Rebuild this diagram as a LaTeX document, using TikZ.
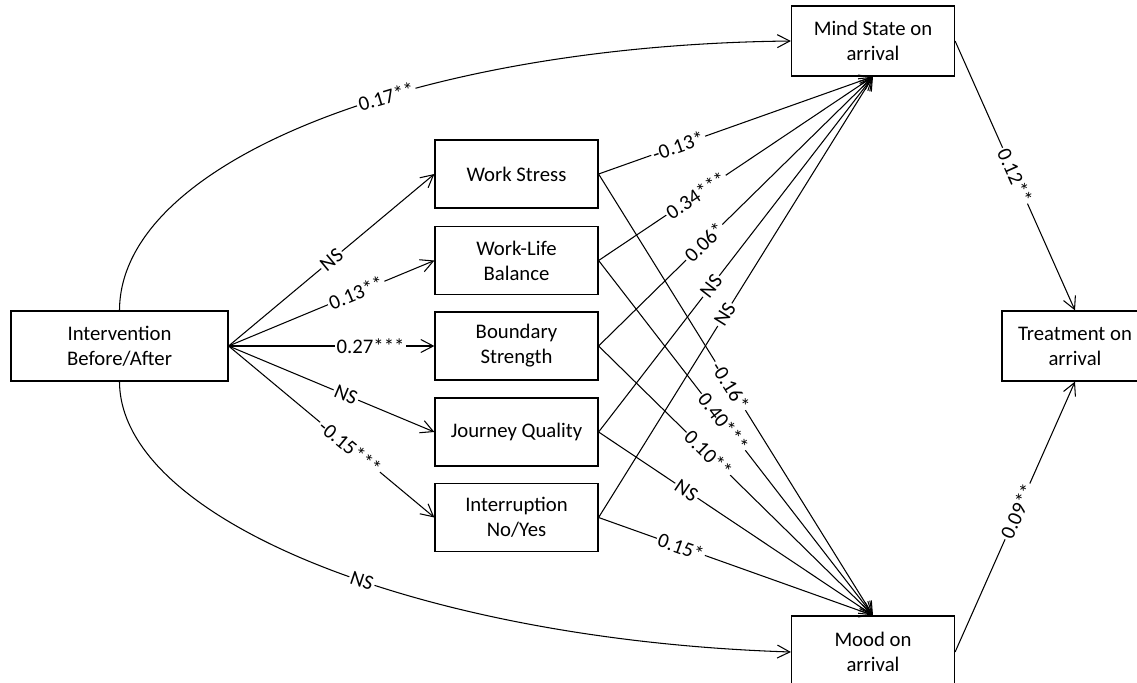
\documentclass[tikz,border=0pt]{standalone}
\usepackage{fontspec}
\setmainfont{Carlito}
\usepackage{tikz}
\usetikzlibrary{positioning,arrows.meta}

\begin{document}
\begin{tikzpicture}[x=0.02cm,y=-0.02cm,
	var/.style={rectangle, draw, line width=0.7pt, text centered, align=center,
		minimum width=3.26cm, minimum height=1.36cm, inner sep=2pt,
		font=\fontsize{11.8}{14.2}\selectfont},
	coef/.style={fill=white, inner sep=1pt, sloped,
		font=\fontsize{11.8}{13}\selectfont},
	arr/.style={-{Straight Barb[length=2.5mm,width=2.6mm]}, line width=0.6pt}
	]
	\clip (0,0) rectangle (1137,683);
	% outcome and predictor boxes
	\node (i) [var, minimum width=4.34cm, minimum height=1.4cm] at (119.5,346) {Intervention\\Before/After};
	\node (ws) [var] at (516.5,174) {Work Stress};
	\node (wl) [var] at (516.5,260.5) {Work-Life\\Balance};
	\node (bs) [var] at (516.5,346) {Boundary\\Strength};
	\node (jq) [var] at (516.5,432) {Journey Quality};
	\node (ir) [var] at (516.5,517.5) {Interruption\\No/Yes};
	\node (ms) [var, minimum height=1.4cm] at (873,41) {Mind State on\\arrival};
	\node (mo) [var, minimum height=1.44cm] at (873,652) {Mood on\\arrival};
	\node (t) [var, minimum width=2.92cm, minimum height=1.4cm] at (1075,346) {Treatment on\\arrival};

	% intervention paths
	\draw[arr] (i.east) -- node[coef, pos=0.5] {NS} (ws.west);
	\draw[arr] (i.east) -- node[coef, pos=0.62] {0.13**} (wl.west);
	\draw[arr] (i.east) -- node[coef, pos=0.69] {0.27***} (bs.west);
	\draw[arr] (i.east) -- node[coef, pos=0.57] {NS} (jq.west);
	\draw[arr] (i.east) -- node[coef, pos=0.59] {-0.15***} (ir.west);
	\draw[arr] (i.north) .. controls (120,160) and (420,45) .. node[coef, pos=0.59] {0.17**} (ms.west);
	\draw[arr] (i.south) .. controls (120,520) and (420,640) .. node[coef, pos=0.56] {NS} (mo.west);

	% to mind state
	\draw[arr] (ws.east) -- node[coef, pos=0.29] {-0.13*} (ms.south);
	\draw[arr] (wl.east) -- node[coef, pos=0.355] {0.34***} (ms.south);
	\draw[arr] (bs.east) -- node[coef, pos=0.385] {0.06*} (ms.south);
	\draw[arr] (jq.east) -- node[coef, pos=0.41] {NS} (ms.south);
	\draw[arr] (ir.east) -- node[coef, pos=0.46] {NS} (ms.south);

	% to mood
	\draw[arr] (ws.east) -- node[coef, pos=0.48] {-0.16*} (mo.north);
	\draw[arr] (wl.east) -- node[coef, pos=0.455] {0.40***} (mo.north);
	\draw[arr] (bs.east) -- node[coef, pos=0.4] {0.10**} (mo.north);
	\draw[arr] (jq.east) -- node[coef, pos=0.32] {NS} (mo.north);
	\draw[arr] (ir.east) -- node[coef, pos=0.3] {0.15*} (mo.north);

	% to treatment
	\draw[arr] (ms.east) -- node[coef, pos=0.5] {0.12**} (t.north);
	\draw[arr] (mo.east) -- node[coef, pos=0.52] {0.09**} (t.south);
\end{tikzpicture}
\end{document}
